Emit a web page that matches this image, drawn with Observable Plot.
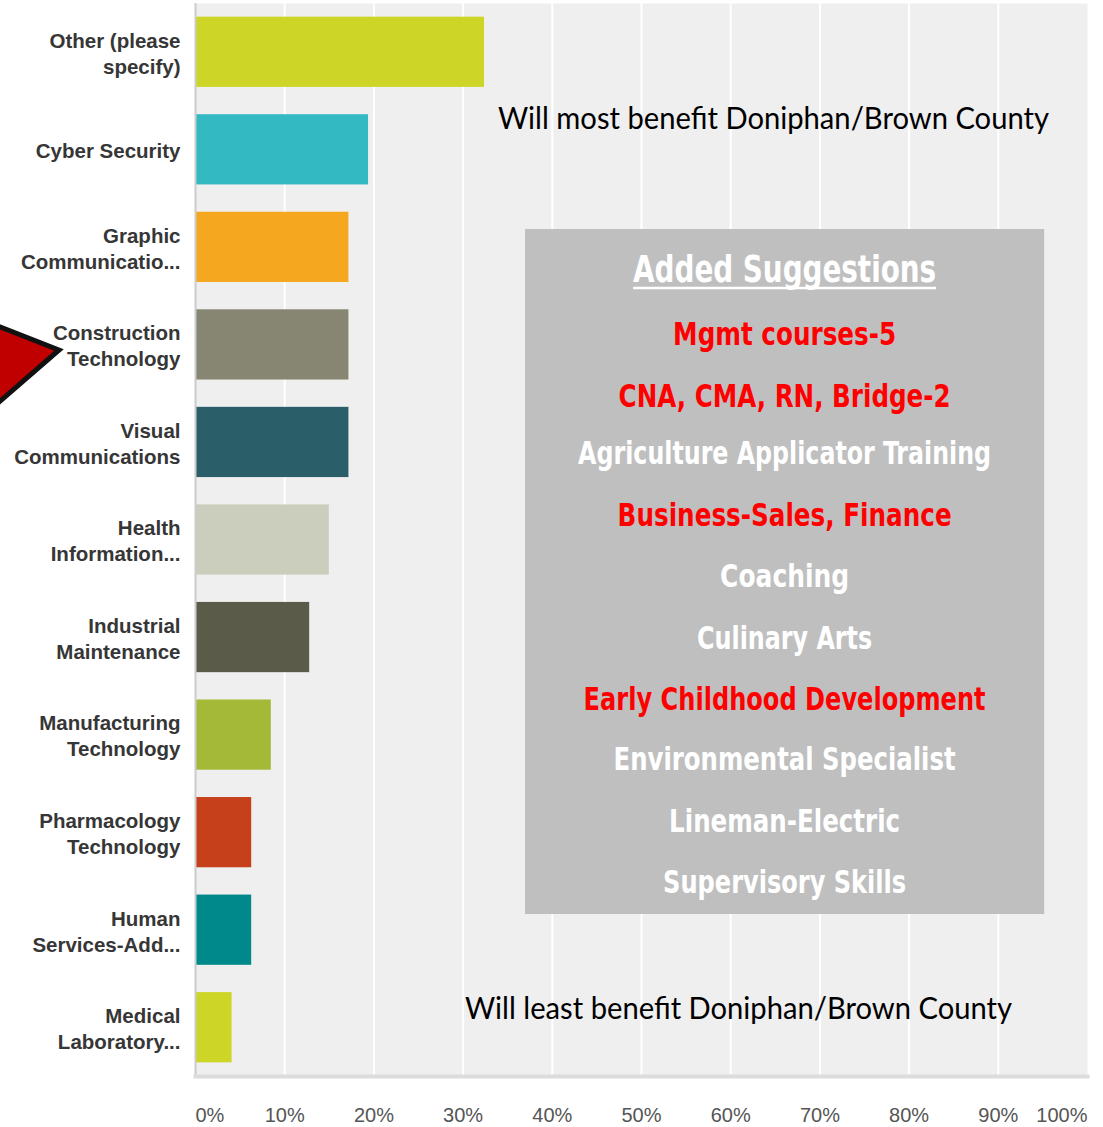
<!DOCTYPE html>
<html><head><meta charset="utf-8">
<script src="https://cdn.jsdelivr.net/npm/d3@7"></script>
<script src="https://cdn.jsdelivr.net/npm/@observablehq/plot@0.6"></script>
<style>
body{margin:0;background:#fff}
#chart{position:relative;width:1103px;height:1127px}
</style>
</head><body><div id="chart"></div>
<script>
// ---- data ----
const categories = [
  "Other (please\nspecify)",
  "Cyber Security",
  "Graphic\nCommunicatio...",
  "Construction\nTechnology",
  "Visual\nCommunications",
  "Health\nInformation...",
  "Industrial\nMaintenance",
  "Manufacturing\nTechnology",
  "Pharmacology\nTechnology",
  "Human\nServices-Add...",
  "Medical\nLaboratory..."
];
const values = [32.4, 19.4, 17.2, 17.2, 17.2, 15.0, 12.8, 8.5, 6.3, 6.3, 4.1];
const colors = ["#cdd527", "#33b9c1", "#f5a81f", "#878672", "#2a5e69", "#cbcdbd",
                "#5a5b49", "#a5b938", "#c5401b", "#00898a", "#cdd527"];
const xTicks = [0, 10, 20, 30, 40, 50, 60, 70, 80, 90, 100];

const suggestionTitle = "Added Suggestions";
const suggestions = [
  "Mgmt courses-5",
  "CNA, CMA, RN, Bridge-2",
  "Agriculture Applicator Training",
  "Business-Sales, Finance",
  "Coaching",
  "Culinary Arts",
  "Early Childhood Development",
  "Environmental Specialist",
  "Lineman-Electric",
  "Supervisory Skills"
];
const suggestionHighlighted = [true, true, false, true, false, false, true, false, false, false];
const topNote = "Will most benefit Doniphan/Brown County";
const bottomNote = "Will least benefit Doniphan/Brown County";

const data = categories.map((c, i) => ({category: c, value: values[i], color: colors[i]}));

const axisStyle = {tickSize: 0, tickPadding: 31, fontSize: 20, fill: "#555", tickFormat: d => d + "%",
                   fontFamily: "Liberation Sans, Arial, sans-serif"};

const chart = Plot.plot({
  width: 1103,
  height: 1127,
  marginTop: 3,
  marginBottom: 51,
  marginLeft: 195,
  marginRight: 16,
  style: {fontFamily: "Liberation Sans, Arial, sans-serif", background: "#fff"},
  x: {domain: [0, 100]},
  y: {domain: categories, paddingInner: 0.28, paddingOuter: 0.14, round: false},
  color: {type: "identity"},
  marks: [
    Plot.frame({fill: "#efefef", stroke: null}),
    Plot.gridX(xTicks.slice(1, -1), {stroke: "#fff", strokeOpacity: 1, strokeWidth: 2}),
    Plot.barX(data, {x: "value", y: "category", fill: "color"}),
    Plot.ruleX([0], {stroke: "#cccccc", strokeWidth: 2}),
    Plot.frame({anchor: "bottom", stroke: "#dcdcdc", strokeWidth: 4}),
    Plot.axisY({tickSize: 0, tickPadding: 15, fontSize: 20.5, fontWeight: "bold", fill: "#363636",
                lineHeight: 1.27, label: null}),
    Plot.axisX([0], {...axisStyle, textAnchor: "start", label: null}),
    Plot.axisX(xTicks.slice(1, -1), {...axisStyle, label: null}),
    Plot.axisX([100], {...axisStyle, textAnchor: "end", label: null})
  ]
});

document.getElementById("chart").appendChild(chart);

// ---- annotations ----
const svg = d3.select(chart);
const xs = chart.scale("x");
const X = v => xs.apply(v);

// red arrow pointing to Construction Technology
svg.append("polygon")
  .attr("points", "-10,323 59,350 -10,410")
  .attr("fill", "#c00000").attr("stroke", "#111").attr("stroke-width", 5)
  .attr("stroke-linejoin", "miter");

// notes
svg.append("text").text(topNote)
  .attr("x", 498).attr("y", 129).attr("text-anchor", "start")
  .attr("font-family", "Lato, Carlito, sans-serif").attr("font-size", 30).attr("fill", "#000")
  .attr("textLength", 551).attr("lengthAdjust", "spacingAndGlyphs");
svg.append("text").text(bottomNote)
  .attr("x", 465).attr("y", 1019).attr("text-anchor", "start")
  .attr("font-family", "Lato, Carlito, sans-serif").attr("font-size", 30).attr("fill", "#000")
  .attr("textLength", 547).attr("lengthAdjust", "spacingAndGlyphs");

// suggestions box
const boxX1 = X(37), boxX2 = X(95.2);
const g = svg.append("g").attr("text-anchor", "middle");
g.append("rect").attr("x", boxX1).attr("y", 229).attr("width", boxX2 - boxX1).attr("height", 685)
  .attr("fill", "#bfbfbf");
const cx = (boxX1 + boxX2) / 2;
const condensed = "'Liberation Sans Narrow', 'DejaVu Sans Condensed', 'Roboto Condensed', sans-serif";
g.append("text").text(suggestionTitle)
  .attr("x", cx).attr("y", 282)
  .attr("font-family", condensed).attr("font-weight", "bold").attr("font-size", 38).attr("fill", "#fff")
  .attr("textLength", 303).attr("lengthAdjust", "spacingAndGlyphs");
g.append("line").attr("x1", cx - 151.5).attr("x2", cx + 151.5).attr("y1", 288).attr("y2", 288)
  .attr("stroke", "#fff").attr("stroke-width", 2.5);
const widths = [223, 332, 413, 334, 129, 175, 402, 342, 231, 243];
const baselines = [345, 407, 464, 526, 587, 649, 710, 770, 832, 893];
suggestions.forEach((s, i) => {
  g.append("text").text(s)
    .attr("x", cx).attr("y", baselines[i])
    .attr("font-family", condensed).attr("font-weight", "bold").attr("font-size", 32)
    .attr("fill", suggestionHighlighted[i] ? "#ff0000" : "#ffffff")
    .attr("textLength", widths[i]).attr("lengthAdjust", "spacingAndGlyphs");
});
</script>
</body></html>
